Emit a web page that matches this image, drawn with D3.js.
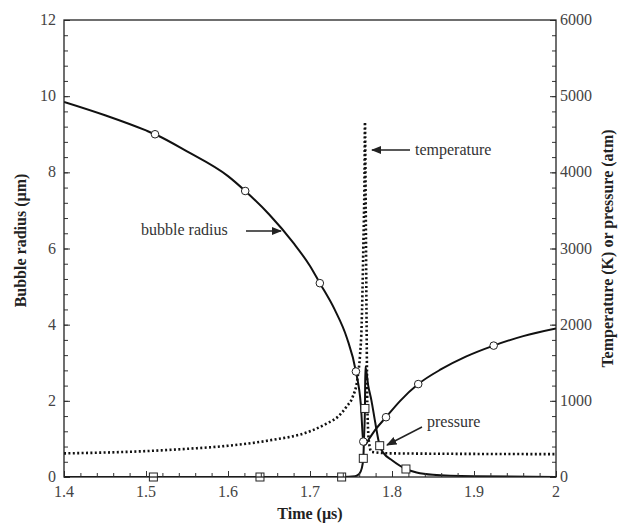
<!DOCTYPE html>
<html lang="en">
<head>
<meta charset="utf-8">
<title>Bubble collapse</title>
<script src="https://cdnjs.cloudflare.com/ajax/libs/d3/7.8.5/d3.min.js"></script>
<style>
    body { margin: 0; background: #fff; }
    text { font-family: "Liberation Serif", "Times New Roman", serif; fill: #333; }
    .tick-label { font-size: 16px; fill: #444; }
    .axis-title { font-size: 16px; font-weight: bold; fill: #222; }
    .note { font-size: 16px; }
</style>
</head>
<body>
<div id="chart"></div>
<script>
// bubble radius (um), left axis
var radiusTime = [1.40, 1.45, 1.50, 1.511, 1.55, 1.60, 1.621, 1.65, 1.68, 1.70, 1.712, 1.73, 1.745, 1.756, 1.762, 1.765, 1.767, 1.772, 1.78, 1.7927, 1.81, 1.832, 1.86, 1.89, 1.924, 1.96, 2.0];
var radiusVal  = [9.85, 9.5, 9.1, 9.0, 8.55, 7.9, 7.51, 6.9, 6.14, 5.54, 5.09, 4.4, 3.65, 2.77, 1.9, 0.93, 0.85, 1.0, 1.25, 1.57, 2.0, 2.44, 2.83, 3.16, 3.45, 3.7, 3.9];
var radiusMarkTime = [1.511, 1.621, 1.712, 1.756, 1.765, 1.7927, 1.832, 1.924];
var radiusMarkVal  = [9.0, 7.51, 5.09, 2.77, 0.93, 1.57, 2.44, 3.45];

// temperature (K), right axis
var tempTime = [1.40, 1.50, 1.55, 1.60, 1.65, 1.70, 1.72, 1.735, 1.745, 1.752, 1.758, 1.761, 1.763, 1.765, 1.7665, 1.767, 1.768, 1.769, 1.770, 1.772, 1.775, 1.80, 2.0];
var tempVal  = [310, 340, 370, 410, 480, 600, 700, 800, 930, 1050, 1300, 1600, 2000, 3000, 4000, 4660, 3500, 2000, 900, 450, 330, 310, 300];

// pressure (atm), right axis
var presTime = [1.40, 1.50, 1.60, 1.70, 1.74, 1.755, 1.760, 1.763, 1.765, 1.766, 1.767, 1.7675, 1.771, 1.775, 1.779, 1.785, 1.79, 1.80, 1.817, 1.83, 1.85, 1.90, 2.0];
var presVal  = [0, 0, 0, 0, 0, 10, 40, 110, 245, 550, 900, 1450, 1200, 1000, 750, 411, 310, 220, 105, 60, 30, 10, 0];
var presMarkTime = [1.509, 1.639, 1.7386, 1.765, 1.767, 1.785, 1.817];
var presMarkVal  = [0, 0, 0, 245, 900, 411, 105];

var xTicks = [1.4, 1.5, 1.6, 1.7, 1.8, 1.9, 2];
var yLeftTicks = [0, 2, 4, 6, 8, 10, 12];
var yRightTicks = [0, 1000, 2000, 3000, 4000, 5000, 6000];

var width = 621, height = 524;
var margin = {top: 20, right: 65, bottom: 47, left: 64};

var svg = d3.select("#chart").append("svg")
    .attr("width", width)
    .attr("height", height);

var x = d3.scaleLinear().domain([1.4, 2]).range([margin.left, width - margin.right]);
var yL = d3.scaleLinear().domain([0, 12]).range([height - margin.bottom, margin.top]);
var yR = d3.scaleLinear().domain([0, 6000]).range([height - margin.bottom, margin.top]);

var x0 = x.range()[0], x1 = x.range()[1];
var yb = yL.range()[0], yt = yL.range()[1];

function zip(a, b) {
    return a.map(function (d, i) { return [d, b[i]]; });
}

svg.append("clipPath").attr("id", "plot")
    .append("rect")
    .attr("x", x0).attr("y", yt)
    .attr("width", x1 - x0).attr("height", yb - yt);

var plot = svg.append("g").attr("clip-path", "url(#plot)");

var lineR = d3.line()
    .x(function (d) { return x(d[0]); })
    .y(function (d) { return yR(d[1]); })
    .curve(d3.curveMonotoneX);

var lineL = d3.line()
    .x(function (d) { return x(d[0]); })
    .y(function (d) { return yL(d[1]); })
    .curve(d3.curveMonotoneX);

// temperature, dotted
plot.append("path")
    .datum(zip(tempTime, tempVal))
    .attr("d", lineR)
    .attr("fill", "none")
    .attr("stroke", "#111")
    .attr("stroke-width", 2.6)
    .attr("stroke-dasharray", "2,2.4");

plot.append("path")
    .datum(zip(presTime, presVal))
    .attr("d", lineR)
    .attr("fill", "none")
    .attr("stroke", "#111")
    .attr("stroke-width", 2);

plot.append("path")
    .datum(zip(radiusTime, radiusVal))
    .attr("d", lineL)
    .attr("fill", "none")
    .attr("stroke", "#111")
    .attr("stroke-width", 2);

// markers
svg.append("g").selectAll("rect")
    .data(zip(presMarkTime, presMarkVal))
    .enter().append("rect")
    .attr("x", function (d) { return x(d[0]) - 4; })
    .attr("y", function (d) { return yR(d[1]) - 4; })
    .attr("width", 8).attr("height", 8)
    .attr("fill", "#fff")
    .attr("stroke", "#222")
    .attr("stroke-width", 1);

svg.append("g").selectAll("circle")
    .data(zip(radiusMarkTime, radiusMarkVal))
    .enter().append("circle")
    .attr("cx", function (d) { return x(d[0]); })
    .attr("cy", function (d) { return yL(d[1]); })
    .attr("r", 3.8)
    .attr("fill", "#fff")
    .attr("stroke", "#222")
    .attr("stroke-width", 1);

// axes, ticks pointing inward
function styleAxis(g) {
    g.select(".domain").remove();
    g.selectAll("line").attr("stroke", "#333").attr("stroke-width", 1);
}

svg.append("g").attr("transform", "translate(0," + yb + ")")
    .call(d3.axisBottom(x).tickValues(d3.range(1.4, 2.0001, 0.02)).tickSize(-4).tickFormat("")).call(styleAxis);
svg.append("g").attr("transform", "translate(" + x0 + ",0)")
    .call(d3.axisLeft(yL).tickValues(d3.range(0, 12.001, 0.4)).tickSize(-4).tickFormat("")).call(styleAxis);
svg.append("g").attr("transform", "translate(" + x1 + ",0)")
    .call(d3.axisRight(yR).tickValues(d3.range(0, 6001, 200)).tickSize(-4).tickFormat("")).call(styleAxis);

// major ticks a bit longer
svg.append("g").attr("transform", "translate(0," + yb + ")")
    .call(d3.axisBottom(x).tickValues(xTicks).tickSize(-6).tickFormat("")).call(styleAxis);
svg.append("g").attr("transform", "translate(" + x0 + ",0)")
    .call(d3.axisLeft(yL).tickValues(yLeftTicks).tickSize(-6).tickFormat("")).call(styleAxis);
svg.append("g").attr("transform", "translate(" + x1 + ",0)")
    .call(d3.axisRight(yR).tickValues(yRightTicks).tickSize(-6).tickFormat("")).call(styleAxis);

// frame
svg.append("rect")
    .attr("x", x0).attr("y", yt)
    .attr("width", x1 - x0).attr("height", yb - yt)
    .attr("fill", "none")
    .attr("stroke", "#222")
    .attr("stroke-width", 1.3);

// tick labels
svg.append("g").selectAll("text")
    .data(xTicks)
    .enter().append("text")
    .attr("class", "tick-label")
    .attr("x", function (d) { return x(d); })
    .attr("y", yb + 20)
    .attr("text-anchor", "middle")
    .text(function (d) { return +d.toFixed(1); });

svg.append("g").selectAll("text")
    .data(yLeftTicks)
    .enter().append("text")
    .attr("class", "tick-label")
    .attr("x", x0 - 8)
    .attr("y", function (d) { return yL(d) + 5; })
    .attr("text-anchor", "end")
    .text(function (d) { return d; });

svg.append("g").selectAll("text")
    .data(yRightTicks)
    .enter().append("text")
    .attr("class", "tick-label")
    .attr("x", x1 + 4)
    .attr("y", function (d) { return yR(d) + 5; })
    .attr("text-anchor", "start")
    .text(function (d) { return d; });

// axis titles
svg.append("text")
    .attr("class", "axis-title")
    .attr("x", (x0 + x1) / 2)
    .attr("y", height - 5)
    .attr("text-anchor", "middle")
    .text("Time (µs)");

svg.append("text")
    .attr("class", "axis-title")
    .attr("transform", "translate(26," + ((yt + yb) / 2 - 8) + ") rotate(-90)")
    .attr("text-anchor", "middle")
    .text("Bubble radius (µm)");

svg.append("text")
    .attr("class", "axis-title")
    .attr("transform", "translate(613," + ((yt + yb) / 2) + ") rotate(-90)")
    .attr("text-anchor", "middle")
    .text("Temperature (K) or pressure (atm)");

// annotations with arrows
svg.append("defs").append("marker")
    .attr("id", "arrow")
    .attr("viewBox", "0 0 10 10")
    .attr("refX", 9).attr("refY", 5)
    .attr("markerWidth", 7).attr("markerHeight", 7)
    .attr("orient", "auto")
    .append("path")
    .attr("d", "M0,1 L10,5 L0,9 Z")
    .attr("fill", "#222");

function note(label, tx, ty, ax1, ay1, ax2, ay2) {
    svg.append("text").attr("class", "note")
        .attr("x", tx).attr("y", ty)
        .text(label);
    svg.append("line")
        .attr("x1", ax1).attr("y1", ay1)
        .attr("x2", ax2).attr("y2", ay2)
        .attr("stroke", "#222")
        .attr("stroke-width", 1.5)
        .attr("marker-end", "url(#arrow)");
}

note("bubble radius", 141, 235, 246, 231, 281, 231);
note("temperature", 415, 155, 410, 150, 372, 150);
note("pressure", 427, 427, 422, 427, 387, 445);
</script>
</body>
</html>
